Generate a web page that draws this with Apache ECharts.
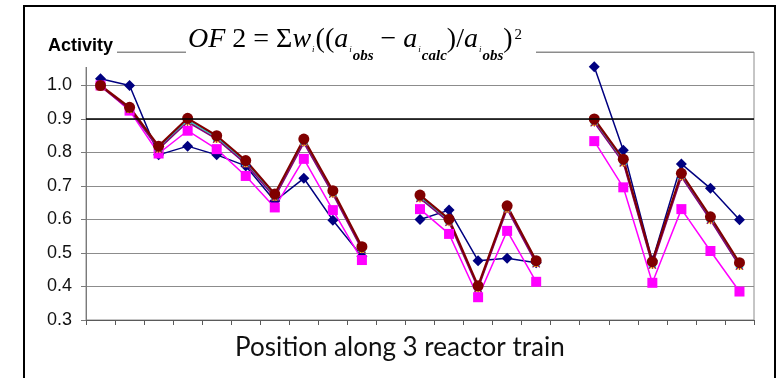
<!DOCTYPE html>
<html>
<head>
<meta charset="utf-8">
<script src="https://cdn.jsdelivr.net/npm/echarts@6/dist/echarts.min.js"></script>
<style>
  html, body { margin: 0; padding: 0; background: #fff; }
  #chart { width: 778px; height: 378px; }
</style>
</head>
<body>
<div id="chart"></div>
<script>
// positions along the 3 reactor train (gaps between reactors are null)
var positions = ['1','2','3','4','5','6','7','8','9','10','11','12','13','14','15','16','17','18','19','20','21','22','23']
var yTicks = [0.3, 0.4, 0.5, 0.6, 0.7, 0.8, 0.9, 1.0, 1.1]

var navyData = [1.02, 1.00, 0.793, 0.819, 0.793, 0.760, 0.655, 0.723, 0.598, 0.490, null,
  0.600, 0.628, 0.477, 0.484, 0.471, null,
  1.056, 0.807, 0.477, 0.766, 0.693, 0.599]
var magentaData = [1.00, 0.925, 0.797, 0.865, 0.810, 0.730, 0.636, 0.781, 0.628, 0.479, null,
  0.631, 0.557, 0.368, 0.566, 0.414, null,
  0.834, 0.696, 0.411, 0.631, 0.506, 0.385]
var yellowData = [0.998, 0.930, 0.812, 0.893, 0.842, 0.768, 0.668, 0.831, 0.678, 0.512, null,
  0.665, 0.594, 0.396, 0.633, 0.470, null,
  0.891, 0.771, 0.466, 0.729, 0.600, 0.463]
var cyanData = [0.999, 0.932, 0.815, 0.896, 0.845, 0.771, 0.671, 0.835, 0.681, 0.515, null,
  0.668, 0.597, 0.399, 0.636, 0.473, null,
  0.895, 0.775, 0.469, 0.733, 0.603, 0.466]
var purpleData = [0.997, 0.929, 0.810, 0.891, 0.840, 0.766, 0.666, 0.829, 0.676, 0.510, null,
  0.663, 0.592, 0.394, 0.631, 0.468, null,
  0.889, 0.769, 0.464, 0.727, 0.598, 0.461]
var maroonData = [1.00, 0.935, 0.819, 0.902, 0.850, 0.776, 0.676, 0.840, 0.686, 0.519, null,
  0.673, 0.601, 0.402, 0.641, 0.477, null,
  0.900, 0.780, 0.474, 0.738, 0.608, 0.471]

var xSymbol = 'path://M0,1L1,0L5,4L9,0L10,1L6,5L10,9L9,10L5,6L1,10L0,9L4,5Z'
var starSymbol = 'path://M0,1L1,0L4.5,3.5L4.5,0L5.5,0L5.5,3.5L9,0L10,1L6,5L10,9L9,10L5.5,6.5L5.5,10L4.5,10L4.5,6.5L1,10L0,9L4,5Z'

function lineSeries(data, color, symbol, size, width) {
  return {
    type: 'line',
    data: data,
    symbol: symbol,
    symbolSize: size,
    showSymbol: true,
    connectNulls: false,
    animation: false,
    lineStyle: { color: color, width: width },
    itemStyle: { color: color }
  }
}

var serifFont = '"Liberation Serif", "DejaVu Serif", serif'
var formulaRich = {
  m: { fontFamily: serifFont, fontStyle: 'italic', fontSize: 28, lineHeight: 28, verticalAlign: 'top', padding: [0, 0, 0, 0] },
  n: { fontFamily: serifFont, fontSize: 28, lineHeight: 28, verticalAlign: 'top', padding: [0, 0, 0, 0] },
  s: { fontFamily: serifFont, fontStyle: 'italic', fontSize: 9, lineHeight: 9, verticalAlign: 'top', padding: [19, 1, 0, 1] },
  o: { fontFamily: serifFont, fontStyle: 'italic', fontWeight: 'bold', fontSize: 15, lineHeight: 15, verticalAlign: 'top', padding: [23, 0, 0, 0] },
  p: { fontFamily: serifFont, fontSize: 15, lineHeight: 15, verticalAlign: 'top', padding: [2, 0, 0, 2] }
}
var formulaText = '{m|OF}{n| 2 = Σ}{m|w}{s|i}{n|((}{m|a}{s|i}{o|obs}{n| − }{m|a}{s|i}{o|calc}{n|)/}{m|a}{s|i}{o|obs}{n|)}{p|2}'

var myChart = echarts.init(document.getElementById('chart'))
var option = {
  animation: false,
  grid: {
    left: 86,
    right: 24,
    top: 52,
    bottom: 58,
    show: true,
    borderColor: '#8c8c8c',
    borderWidth: 1
  },
  xAxis: {
    type: 'category',
    data: positions,
    boundaryGap: true,
    axisLine: { lineStyle: { color: '#5a5a5a', width: 1 } },
    axisTick: { show: true, interval: 0, length: 5, lineStyle: { color: '#5a5a5a' } },
    axisLabel: { show: false },
    splitLine: { show: false }
  },
  yAxis: {
    type: 'value',
    min: yTicks[0],
    max: yTicks[yTicks.length - 1],
    interval: 0.1,
    axisLine: { show: true, lineStyle: { color: '#7a7a7a', width: 1 } },
    axisTick: { show: true, length: 5, lineStyle: { color: '#7a7a7a' } },
    axisLabel: {
      margin: 14,
      color: '#111',
      fontSize: 18,
      fontFamily: '"Liberation Sans", Arial, sans-serif',
      formatter: function (v) {
        return v > 1.05 ? '' : v.toFixed(1)
      }
    },
    splitLine: { show: true, lineStyle: { color: '#8c8c8c', width: 1 } }
  },
  series: [
    lineSeries(navyData, '#000080', 'diamond', 11, 1.5),
    lineSeries(magentaData, '#ff00ff', 'rect', 10, 1.5),
    lineSeries(yellowData, '#ffd700', 'triangle', 8, 1.2),
    lineSeries(cyanData, '#00d8e8', xSymbol, 8, 1.2),
    lineSeries(purpleData, '#800080', starSymbol, 8, 1.5),
    Object.assign(lineSeries(maroonData, '#800000', 'circle', 11, 2.2), {
      markLine: {
        silent: true,
        symbol: 'none',
        label: { show: false },
        lineStyle: { color: '#000', width: 1.5, type: 'solid' },
        data: [{ yAxis: 0.9 }]
      }
    })
  ],
  graphic: [
    // outer chart border
    { type: 'rect', z: 100, shape: { x: 24, y: 6, width: 751, height: 390 },
      style: { fill: 'none', stroke: '#000', lineWidth: 2 } },
    // white boxes behind the titles (they hide the top grid line)
    { type: 'rect', z: 100, shape: { x: 44, y: 34, width: 73, height: 33 }, style: { fill: '#fff' } },
    { type: 'rect', z: 100, shape: { x: 186, y: 24, width: 350, height: 42 }, style: { fill: '#fff' } },
    { type: 'text', z: 101, style: {
        x: 48, y: 46, text: 'Activity', verticalAlign: 'middle',
        font: 'bold 18px "Liberation Sans", Arial, sans-serif', fill: '#000'
      } },
    { type: 'text', z: 101, style: {
        x: 188, y: 26, text: formulaText, rich: formulaRich, verticalAlign: 'top', fill: '#000'
      } },
    { type: 'text', z: 101, style: {
        x: 235, y: 348, text: 'Position along 3 reactor train', verticalAlign: 'middle',
        font: '26px Lato, "Open Sans", sans-serif', fill: '#111'
      } }
  ]
}
myChart.setOption(option)
window.addEventListener('resize', function () {
  myChart.resize()
})
</script>
</body>
</html>
